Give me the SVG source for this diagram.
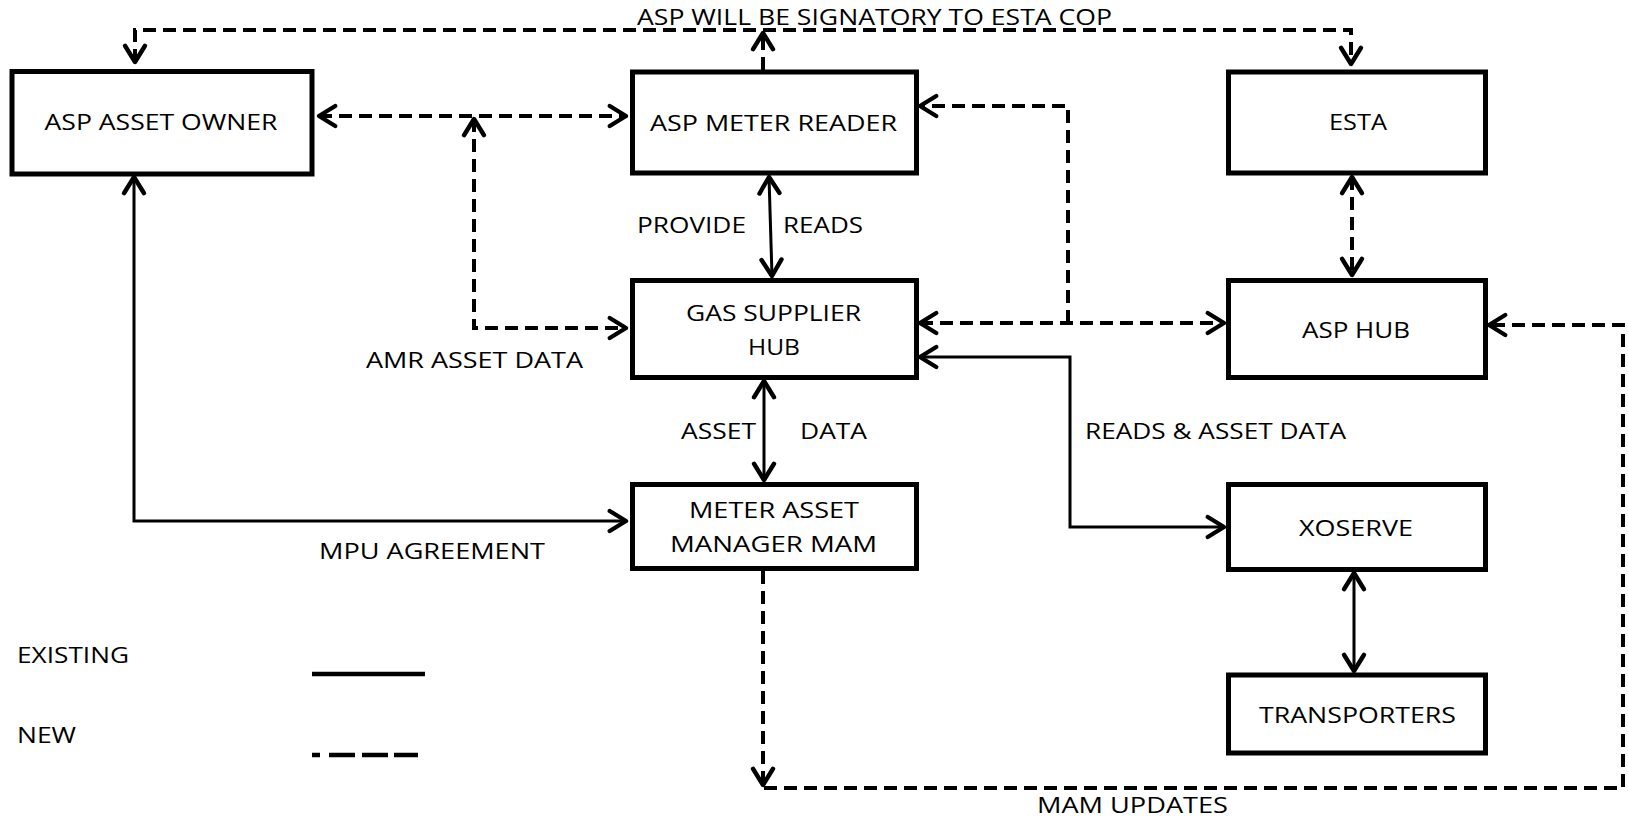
<svg xmlns="http://www.w3.org/2000/svg" width="1628" height="819" viewBox="0 0 1628 819">
<style>
  .box { fill: #ffffff; stroke: #000000; stroke-width: 5; }
  .lbl { font-family: "Open Sans", "Liberation Sans", Arial, sans-serif; font-size: 22.5px; fill: #000000; }
  .mid { text-anchor: middle; }
  .solid { fill: none; stroke: #000000; stroke-width: 3; }
  .dash { fill: none; stroke: #000000; stroke-width: 4; stroke-dasharray: 13 7; }
</style>
<defs>
  <marker id="arr" markerUnits="userSpaceOnUse" markerWidth="30" markerHeight="30" refX="0" refY="0" viewBox="-18 -12 22 24" orient="auto-start-reverse">
    <path d="M -13 -8 L 0 0 L -13 8" fill="none" stroke="#000000" stroke-width="3.5" stroke-linecap="round" stroke-linejoin="round"/>
  </marker>
</defs>

<g id="connectors">
  <path class="dash" d="M 135 62 V 30 H 1351 V 64" marker-start="url(#arr)" marker-end="url(#arr)"/>
  <path class="dash" d="M 763 70 V 33" marker-end="url(#arr)"/>
  <path class="dash" d="M 319 116 H 626" marker-start="url(#arr)" marker-end="url(#arr)"/>
  <path class="dash" d="M 474 119 V 328 H 626" marker-start="url(#arr)" marker-end="url(#arr)"/>
  <path class="solid" d="M 769 177 L 772 276" marker-start="url(#arr)" marker-end="url(#arr)"/>
  <path class="solid" d="M 764 381 V 480" marker-start="url(#arr)" marker-end="url(#arr)"/>
  <path class="solid" d="M 134 177 V 521 H 626" marker-start="url(#arr)" marker-end="url(#arr)"/>
  <path class="dash" d="M 1068 323 V 106 H 920" marker-end="url(#arr)"/>
  <path class="dash" d="M 920 323 H 1224" marker-start="url(#arr)" marker-end="url(#arr)"/>
  <path class="solid" d="M 920 357 H 1070 V 527 H 1224" marker-start="url(#arr)" marker-end="url(#arr)"/>
  <path class="dash" d="M 1352 177 V 275" marker-start="url(#arr)" marker-end="url(#arr)"/>
  <path class="solid" d="M 1354 573 V 671" marker-start="url(#arr)" marker-end="url(#arr)"/>
  <path class="dash" d="M 763 571 V 785" marker-end="url(#arr)"/>
  <path class="dash" d="M 764 788 H 1623 V 325 H 1489" marker-end="url(#arr)"/>
</g>

<g id="asp-asset-owner">
  <rect class="box" x="12" y="71.5" width="300" height="102.5"/>
  <text class="lbl mid" x="161" y="130" textLength="233" lengthAdjust="spacingAndGlyphs">ASP ASSET OWNER</text>
</g>
<g id="asp-meter-reader">
  <rect class="box" x="632.5" y="72" width="284" height="101"/>
  <text class="lbl mid" x="773.5" y="131" textLength="247" lengthAdjust="spacingAndGlyphs">ASP METER READER</text>
</g>
<g id="esta">
  <rect class="box" x="1228.5" y="72" width="257" height="101"/>
  <text class="lbl mid" x="1358" y="130" textLength="58" lengthAdjust="spacingAndGlyphs">ESTA</text>
</g>
<g id="gas-supplier-hub">
  <rect class="box" x="632.5" y="280.5" width="284" height="97"/>
  <text class="lbl mid" x="773.5" y="321" textLength="175" lengthAdjust="spacingAndGlyphs">GAS SUPPLIER</text>
  <text class="lbl mid" x="774" y="355" textLength="52" lengthAdjust="spacingAndGlyphs">HUB</text>
</g>
<g id="asp-hub">
  <rect class="box" x="1228.5" y="280.5" width="257" height="97"/>
  <text class="lbl mid" x="1356" y="338" textLength="108" lengthAdjust="spacingAndGlyphs">ASP HUB</text>
</g>
<g id="meter-asset-manager">
  <rect class="box" x="632.5" y="484.5" width="284" height="84"/>
  <text class="lbl mid" x="774" y="518" textLength="170" lengthAdjust="spacingAndGlyphs">METER ASSET</text>
  <text class="lbl mid" x="773.5" y="552" textLength="207" lengthAdjust="spacingAndGlyphs">MANAGER MAM</text>
</g>
<g id="xoserve">
  <rect class="box" x="1228.5" y="484.5" width="257" height="85"/>
  <text class="lbl mid" x="1356" y="536" textLength="114" lengthAdjust="spacingAndGlyphs">XOSERVE</text>
</g>
<g id="transporters">
  <rect class="box" x="1228.5" y="675" width="257" height="78"/>
  <text class="lbl mid" x="1357.5" y="723" textLength="197" lengthAdjust="spacingAndGlyphs">TRANSPORTERS</text>
</g>

<g id="labels">
  <text class="lbl mid" x="874.5" y="25" textLength="475" lengthAdjust="spacingAndGlyphs">ASP WILL BE SIGNATORY TO ESTA COP</text>
  <text class="lbl" x="637" y="233" textLength="109" lengthAdjust="spacingAndGlyphs">PROVIDE</text>
  <text class="lbl" x="783" y="233" textLength="80" lengthAdjust="spacingAndGlyphs">READS</text>
  <text class="lbl" x="366" y="368" textLength="217" lengthAdjust="spacingAndGlyphs">AMR ASSET DATA</text>
  <text class="lbl" x="681" y="439" textLength="75" lengthAdjust="spacingAndGlyphs">ASSET</text>
  <text class="lbl" x="800" y="439" textLength="67" lengthAdjust="spacingAndGlyphs">DATA</text>
  <text class="lbl" x="1085" y="439" textLength="261" lengthAdjust="spacingAndGlyphs">READS &amp; ASSET DATA</text>
  <text class="lbl" x="319" y="559" textLength="226" lengthAdjust="spacingAndGlyphs">MPU AGREEMENT</text>
  <text class="lbl" x="1037" y="813" textLength="191" lengthAdjust="spacingAndGlyphs">MAM UPDATES</text>
</g>

<g id="legend">
  <text class="lbl" x="17" y="663" textLength="112" lengthAdjust="spacingAndGlyphs">EXISTING</text>
  <text class="lbl" x="17" y="743" textLength="59" lengthAdjust="spacingAndGlyphs">NEW</text>
  <line x1="312" y1="674" x2="425" y2="674" stroke="#000000" stroke-width="4.5"/>
  <line x1="312" y1="755" x2="418" y2="755" stroke="#000000" stroke-width="4.5" stroke-dasharray="8 9 26 7 26 6 24"/>
</g>
</svg>
